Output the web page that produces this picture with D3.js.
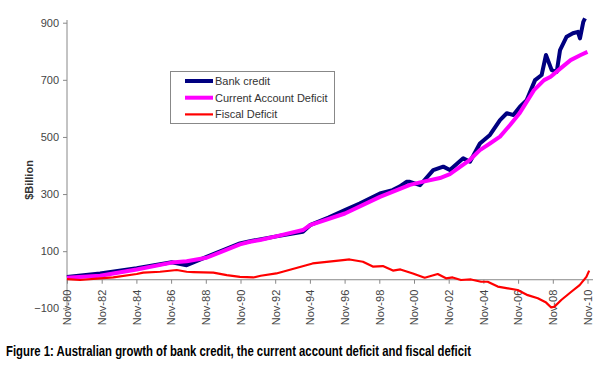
<!DOCTYPE html>
<html>
<head>
<meta charset="utf-8">
<script src="https://cdn.jsdelivr.net/npm/d3@7"></script>
<style>
  body { margin: 0; background: #fff; }
  text { font-family: Arial, "Liberation Sans", sans-serif; }
</style>
</head>
<body>
<svg class="chart" width="615" height="372"></svg>
<script>
// [decimal year, $billion]
const bankCredit = [
  [1980.83, 10], [1982.74, 22], [1984.85, 40], [1986.87, 61], [1987.73, 51],
  [1988.88, 80], [1990.8, 127], [1991.38, 135], [1992.82, 151], [1994.43, 168],
  [1994.84, 191], [1995.9, 218], [1996.85, 244], [1997.7, 267], [1998.87, 302],
  [1999.6, 314], [2000.0, 326], [2000.4, 343], [2000.6, 343], [2001.18, 331],
  [2001.94, 384], [2002.52, 396], [2002.9, 384], [2003.67, 425], [2004.06, 413],
  [2004.63, 477], [2005.21, 507], [2005.79, 559], [2006.18, 583], [2006.56, 577],
  [2006.94, 606], [2007.33, 629], [2007.81, 699], [2008.19, 717], [2008.44, 787],
  [2008.77, 734], [2009.06, 728], [2009.25, 804], [2009.63, 851], [2009.99, 863],
  [2010.28, 868], [2010.4, 845], [2010.59, 903], [2010.69, 915]
];
const currentAccount = [
  [1980.83, 7], [1982.74, 14], [1984.85, 36], [1986.87, 60], [1987.73, 65],
  [1988.88, 77], [1990.8, 124], [1991.38, 133], [1991.96, 139], [1992.82, 151],
  [1994.43, 174], [1994.84, 191], [1996.85, 232], [1998.87, 290], [2000.6, 332],
  [2001.18, 341], [2002.33, 356], [2002.9, 370], [2004.06, 420], [2004.63, 454],
  [2005.21, 477], [2005.79, 501], [2006.37, 542], [2006.94, 585], [2007.75, 664],
  [2008.33, 699], [2008.71, 711], [2009.28, 740], [2009.86, 769], [2010.44, 787],
  [2010.83, 798]
];
const fiscalDeficit = [
  [1980.83, 2], [1981.58, -1], [1982.74, 5], [1983.5, 8], [1984.85, 20],
  [1985.23, 25], [1986.2, 28], [1987.16, 34], [1987.73, 28], [1988.12, 27],
  [1989.27, 25], [1990.04, 16], [1990.8, 10], [1991.57, 8], [1992.0, 14],
  [1992.9, 22], [1994.99, 57], [1996.74, 69], [1997.12, 71], [1997.89, 63],
  [1998.46, 46], [1999.04, 48], [1999.62, 32], [2000.05, 36], [2000.77, 22],
  [2001.45, 7], [2002.2, 20], [2002.68, 5], [2003.06, 8], [2003.54, -1],
  [2004.12, 1], [2004.7, -7], [2005.08, -7], [2005.66, -24], [2006.24, -30],
  [2006.81, -36], [2007.39, -54], [2007.97, -65], [2008.45, -80], [2008.74, -97],
  [2008.93, -94], [2009.32, -71], [2009.9, -42], [2010.38, -19], [2010.77, 10],
  [2010.93, 32]
];

const seriesNames = ["Bank credit", "Current Account Deficit", "Fiscal Deficit"];
const seriesColors = ["#000080", "#ff00ff", "#ff0000"];
const seriesWidths = [4, 4, 2.2];
const yTicks = [-100, 100, 300, 500, 700, 900];
const xTickLabels = ["Nov-80", "Nov-82", "Nov-84", "Nov-86", "Nov-88", "Nov-90", "Nov-92",
  "Nov-94", "Nov-96", "Nov-98", "Nov-00", "Nov-02", "Nov-04", "Nov-06", "Nov-08", "Nov-10"];
const caption = "Figure 1: Australian growth of bank credit, the current account deficit and fiscal deficit";

const svg = d3.select(".chart");

const x = d3.scaleLinear().domain([1980 + 10 / 12, 2010 + 10 / 12]).range([67, 587.5]);
const y = d3.scaleLinear().domain([-100, 900]).range([308.3, 22.7]);
const xTickValues = xTickLabels.map((d, i) => 1980 + 10 / 12 + 2 * i);

const axisColor = "#888";

// y axis
const yAxis = svg.append("g")
  .attr("transform", "translate(67,0)")
  .call(d3.axisLeft(y).tickValues(yTicks).tickSize(4).tickPadding(4).tickSizeOuter(0));
yAxis.select(".domain").remove();
yAxis.append("line")
  .attr("x1", 0).attr("x2", 0).attr("y1", 20).attr("y2", 308.3)
  .attr("stroke", axisColor);
yAxis.selectAll(".tick line").attr("stroke", axisColor);
yAxis.selectAll(".tick text").attr("fill", "#444").style("font-size", "11px");

svg.append("text")
  .attr("transform", "translate(33,180) rotate(-90)")
  .attr("text-anchor", "middle")
  .style("font-size", "11px")
  .style("font-weight", "bold")
  .attr("fill", "#333")
  .text("$Billion");

// x axis at zero
const xAxis = svg.append("g")
  .attr("transform", `translate(0,${y(0)})`)
  .call(d3.axisBottom(x).tickValues(xTickValues).tickFormat((d, i) => xTickLabels[i])
    .tickSize(4).tickSizeOuter(0));
xAxis.select(".domain").remove();
xAxis.append("line")
  .attr("x1", 67).attr("x2", 593).attr("y1", 0).attr("y2", 0)
  .attr("stroke", axisColor);
xAxis.selectAll(".tick line").attr("stroke", axisColor);
xAxis.selectAll(".tick text")
  .attr("fill", "#444")
  .style("font-size", "11px")
  .attr("transform", "rotate(-90)")
  .attr("text-anchor", "end")
  .attr("x", -10)
  .attr("y", 0)
  .attr("dy", "0.35em");

// lines
const line = d3.line().x((d) => x(d[0])).y((d) => y(d[1]));
[bankCredit, currentAccount, fiscalDeficit].forEach((data, i) => {
  svg.append("path")
    .datum(data)
    .attr("fill", "none")
    .attr("stroke", seriesColors[i])
    .attr("stroke-width", seriesWidths[i])
    .attr("stroke-linejoin", "round")
    .attr("d", line);
});

// legend
const legend = svg.append("g");
legend.append("rect")
  .attr("x", 170.5).attr("y", 71.5).attr("width", 164).attr("height", 52)
  .attr("fill", "#fff").attr("stroke", axisColor);
seriesNames.forEach((name, i) => {
  const ly = 81 + i * 16.7;
  legend.append("line")
    .attr("x1", 185).attr("x2", 213).attr("y1", ly).attr("y2", ly)
    .attr("stroke", seriesColors[i]).attr("stroke-width", seriesWidths[i]);
  legend.append("text")
    .attr("x", 215).attr("y", ly).attr("dy", "0.35em")
    .style("font-size", "11px").attr("fill", "#333")
    .text(name);
});

// caption
svg.append("text")
  .attr("x", 6).attr("y", 356)
  .style("font-family", "'Liberation Sans Narrow', 'Arial Narrow', Arial, sans-serif")
  .style("font-size", "14px")
  .style("font-weight", "bold")
  .attr("textLength", 465)
  .attr("lengthAdjust", "spacingAndGlyphs")
  .attr("fill", "#000")
  .text(caption);
</script>
</body>
</html>
